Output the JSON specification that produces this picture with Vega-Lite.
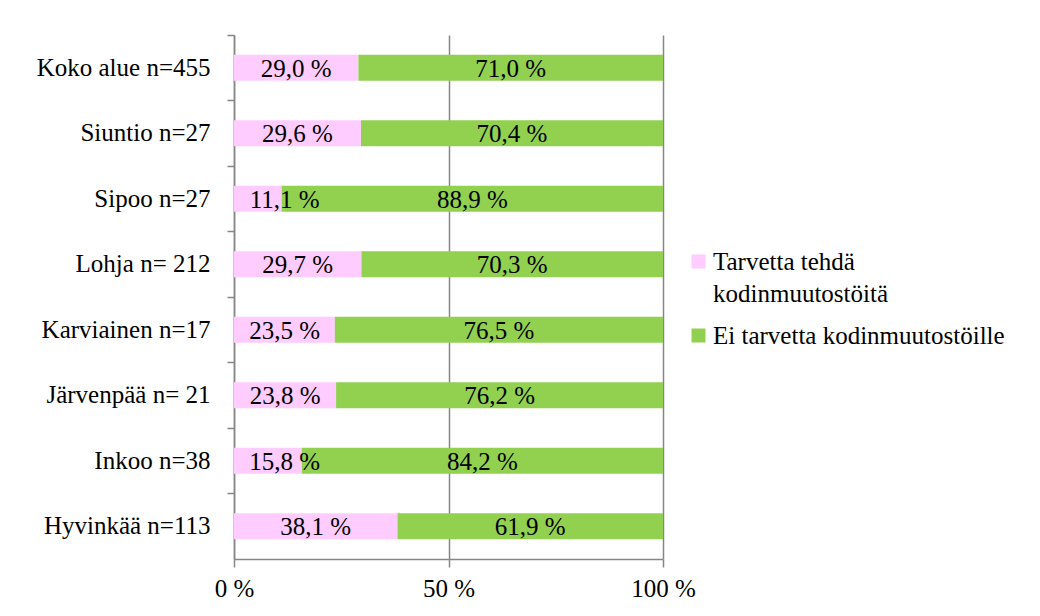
{
  "$schema": "https://vega.github.io/schema/vega-lite/v6.json",
  "autosize": {"type": "none"},
  "width": 429,
  "height": 524,
  "padding": {"left": 234, "top": 35, "right": 377, "bottom": 57},
  "background": "white",
  "config": {
    "font": "'Liberation Serif', 'Times New Roman', serif",
    "view": {"stroke": null},
    "axis": {"labelFont": "'Liberation Serif', 'Times New Roman', serif", "labelColor": "black"},
    "legend": {"labelFont": "'Liberation Serif', 'Times New Roman', serif", "labelColor": "black"},
    "text": {"font": "'Liberation Serif', 'Times New Roman', serif"}
  },
  "data": {
    "values": [
      {"alue": "Koko alue n=455", "luokka": "Tarvetta tehdä kodinmuutostöitä", "jarj": 1, "arvo": 29.0},
      {"alue": "Koko alue n=455", "luokka": "Ei tarvetta kodinmuutostöille", "jarj": 2, "arvo": 71.0},
      {"alue": "Siuntio n=27", "luokka": "Tarvetta tehdä kodinmuutostöitä", "jarj": 1, "arvo": 29.6},
      {"alue": "Siuntio n=27", "luokka": "Ei tarvetta kodinmuutostöille", "jarj": 2, "arvo": 70.4},
      {"alue": "Sipoo n=27", "luokka": "Tarvetta tehdä kodinmuutostöitä", "jarj": 1, "arvo": 11.1},
      {"alue": "Sipoo n=27", "luokka": "Ei tarvetta kodinmuutostöille", "jarj": 2, "arvo": 88.9},
      {"alue": "Lohja n= 212", "luokka": "Tarvetta tehdä kodinmuutostöitä", "jarj": 1, "arvo": 29.7},
      {"alue": "Lohja n= 212", "luokka": "Ei tarvetta kodinmuutostöille", "jarj": 2, "arvo": 70.3},
      {"alue": "Karviainen n=17", "luokka": "Tarvetta tehdä kodinmuutostöitä", "jarj": 1, "arvo": 23.5},
      {"alue": "Karviainen n=17", "luokka": "Ei tarvetta kodinmuutostöille", "jarj": 2, "arvo": 76.5},
      {"alue": "Järvenpää n= 21", "luokka": "Tarvetta tehdä kodinmuutostöitä", "jarj": 1, "arvo": 23.8},
      {"alue": "Järvenpää n= 21", "luokka": "Ei tarvetta kodinmuutostöille", "jarj": 2, "arvo": 76.2},
      {"alue": "Inkoo n=38", "luokka": "Tarvetta tehdä kodinmuutostöitä", "jarj": 1, "arvo": 15.8},
      {"alue": "Inkoo n=38", "luokka": "Ei tarvetta kodinmuutostöille", "jarj": 2, "arvo": 84.2},
      {"alue": "Hyvinkää n=113", "luokka": "Tarvetta tehdä kodinmuutostöitä", "jarj": 1, "arvo": 38.1},
      {"alue": "Hyvinkää n=113", "luokka": "Ei tarvetta kodinmuutostöille", "jarj": 2, "arvo": 61.9}
    ]
  },
  "transform": [
    {"stack": "arvo", "groupby": ["alue"], "sort": [{"field": "jarj", "order": "ascending"}], "as": ["x0", "x1"]},
    {"calculate": "replace(format(datum.arvo, '.1f'), '.', ',') + ' %'", "as": "teksti"},
    {"calculate": "datum.jarj == 1 ? max((datum.x0 + datum.x1) / 2, 11.8) : (datum.x0 + datum.x1) / 2", "as": "kohta"}
  ],
  "encoding": {
    "y": {
      "field": "alue",
      "type": "nominal",
      "sort": null,
      "title": null,
      "scale": {"paddingInner": 0, "paddingOuter": 0},
      "axis": {
        "bandPosition": 0,
        "labelFontSize": 25,
        "labelPadding": 17,
        "tickSize": 7,
        "tickColor": "#868686",
        "domainColor": "#868686",
        "domainWidth": 1.5,
        "tickWidth": 1.5,
        "grid": false
      }
    }
  },
  "layer": [
    {
      "mark": {"type": "bar", "size": 26},
      "encoding": {
        "x": {
          "field": "x0",
          "type": "quantitative",
          "title": null,
          "scale": {"domain": [0, 100], "nice": false},
          "axis": {
            "values": [0, 50, 100],
            "labelExpr": "datum.value + ' %'",
            "labelFontSize": 25,
            "labelPadding": 9,
            "tickSize": 8,
            "tickColor": "#868686",
            "domainColor": "#868686",
            "domainWidth": 1.5,
            "tickWidth": 1.5,
            "grid": true,
            "gridColor": "#868686",
            "gridWidth": 1.5,
            "gridOpacity": 1,
            "labelFlush": false
          }
        },
        "x2": {"field": "x1"},
        "color": {
          "field": "luokka",
          "type": "nominal",
          "sort": ["Tarvetta tehdä kodinmuutostöitä", "Ei tarvetta kodinmuutostöille"],
          "scale": {
            "domain": ["Tarvetta tehdä kodinmuutostöitä", "Ei tarvetta kodinmuutostöille"],
            "range": ["#FFCCFF", "#92D050"]
          },
          "legend": {
            "title": null,
            "orient": "none",
            "legendX": 452,
            "legendY": 214,
            "symbolType": "square",
            "symbolSize": 196,
            "symbolStrokeWidth": 0,
            "symbolOpacity": 1,
            "labelFontSize": 25,
            "labelColor": "black",
            "labelLimit": 400,
            "labelOffset": 2,
            "rowPadding": 16,
            "labelBaseline": "alphabetic",
            "labelExpr": "datum.label == 'Tarvetta tehdä kodinmuutostöitä' ? ['Tarvetta tehdä', 'kodinmuutostöitä'] : datum.label",
            "encode": {"labels": {"update": {"dy": {"value": 8}, "lineHeight": {"value": 32}}}}
          }
        }
      }
    },
    {
      "mark": {"type": "text", "fontSize": 25, "color": "black", "align": "center", "baseline": "middle", "dy": 1},
      "encoding": {
        "x": {"field": "kohta", "type": "quantitative"},
        "text": {"field": "teksti"}
      }
    }
  ]
}
